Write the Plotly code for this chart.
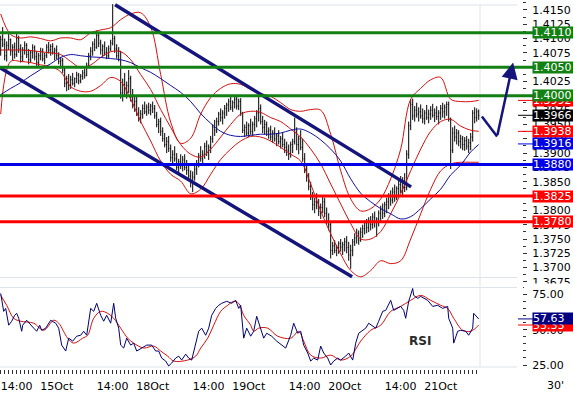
import plotly.graph_objects as go

# ---------------- data (30-minute bars, EUR/USD) ----------------
bar_x = list(range(240))
bar_open = [1.4080,1.4098,1.4090,1.4070,1.4088,1.4098,1.4078,1.4085,1.4072,1.4100,
 1.4082,1.4068,1.4080,1.4088,1.4072,1.4063,1.4076,1.4084,1.4068,1.4058,
 1.4070,1.4078,1.4065,1.4070,1.4085,1.4080,1.4086,1.4076,1.4080,1.4070,
 1.4060,1.4062,1.4045,1.4022,1.4030,1.4018,1.4028,1.4022,1.4030,1.4036,
 1.4026,1.4034,1.4040,1.4036,1.4052,1.4070,1.4078,1.4090,1.4085,1.4105,
 1.4092,1.4080,1.4086,1.4075,1.4070,1.4082,1.4092,1.4100,1.4082,1.4070,
 1.4078,1.4005,1.4020,1.4010,1.4018,1.4030,1.3998,1.3985,1.3990,1.3970,
 1.3962,1.3968,1.3978,1.3972,1.3980,1.3975,1.3982,1.3978,1.3965,1.3950,
 1.3955,1.3938,1.3925,1.3915,1.3920,1.3908,1.3892,1.3898,1.3890,1.3875,
 1.3885,1.3878,1.3888,1.3875,1.3870,1.3860,1.3850,1.3858,1.3872,1.3882,
 1.3895,1.3890,1.3898,1.3912,1.3902,1.3910,1.3925,1.3945,1.3940,1.3955,
 1.3968,1.3962,1.3970,1.3978,1.3984,1.3990,1.3980,1.3988,1.3994,1.3982,
 1.3990,1.3970,1.3940,1.3945,1.3935,1.3948,1.3938,1.3950,1.3960,1.3970,
 1.3978,1.3955,1.3945,1.3950,1.3938,1.3940,1.3928,1.3935,1.3925,1.3930,
 1.3920,1.3925,1.3915,1.3910,1.3905,1.3898,1.3915,1.3920,1.3935,1.3915,
 1.3925,1.3910,1.3890,1.3872,1.3858,1.3842,1.3825,1.3810,1.3815,1.3808,
 1.3798,1.3805,1.3815,1.3795,1.3782,1.3775,1.3730,1.3738,1.3730,1.3735,
 1.3742,1.3736,1.3740,1.3745,1.3735,1.3722,1.3730,1.3745,1.3752,1.3760,
 1.3748,1.3762,1.3768,1.3778,1.3770,1.3782,1.3775,1.3788,1.3780,1.3785,
 1.3795,1.3802,1.3795,1.3810,1.3815,1.3825,1.3818,1.3832,1.3822,1.3838,
 1.3845,1.3835,1.3852,1.3840,1.3898,1.3948,1.3985,1.3965,1.3975,1.3968,
 1.3972,1.3965,1.3960,1.3970,1.3962,1.3968,1.3975,1.3966,1.3970,1.3964,
 1.3970,1.3978,1.3972,1.3980,1.3985,1.3960,1.3905,1.3935,1.3928,1.3935,
 1.3920,1.3925,1.3915,1.3922,1.3912,1.3918,1.3928,1.3970,1.3962,1.3972]
bar_high = [1.4105,1.4120,1.4100,1.4095,1.4112,1.4100,1.4090,1.4093,1.4108,1.4105,
 1.4090,1.4085,1.4095,1.4092,1.4082,1.4080,1.4090,1.4088,1.4078,1.4075,
 1.4084,1.4083,1.4075,1.4090,1.4094,1.4090,1.4092,1.4084,1.4088,1.4076,
 1.4068,1.4066,1.4050,1.4035,1.4038,1.4035,1.4040,1.4032,1.4042,1.4040,
 1.4038,1.4045,1.4048,1.4058,1.4075,1.4085,1.4095,1.4100,1.4114,1.4110,
 1.4098,1.4090,1.4095,1.4085,1.4088,1.4098,1.4160,1.4105,1.4090,1.4085,
 1.4078,1.4030,1.4040,1.4025,1.4045,1.4035,1.4012,1.4000,1.3998,1.3980,
 1.3975,1.3985,1.3990,1.3985,1.3988,1.3986,1.3990,1.3984,1.3972,1.3960,
 1.3962,1.3945,1.3935,1.3928,1.3930,1.3915,1.3905,1.3912,1.3900,1.3890,
 1.3898,1.3895,1.3898,1.3888,1.3882,1.3870,1.3868,1.3880,1.3888,1.3900,
 1.3912,1.3905,1.3918,1.3922,1.3915,1.3930,1.3950,1.3958,1.3962,1.3972,
 1.3978,1.3975,1.3984,1.3988,1.3995,1.3998,1.3992,1.3998,1.3999,1.3995,
 1.3996,1.3972,1.3950,1.3955,1.3952,1.3960,1.3955,1.3965,1.3975,1.3999,
 1.3985,1.3965,1.3958,1.3955,1.3945,1.3948,1.3940,1.3945,1.3935,1.3940,
 1.3930,1.3935,1.3925,1.3920,1.3915,1.3920,1.3925,1.3962,1.3945,1.3930,
 1.3940,1.3925,1.3900,1.3880,1.3865,1.3850,1.3832,1.3822,1.3830,1.3820,
 1.3812,1.3825,1.3822,1.3805,1.3795,1.3780,1.3745,1.3748,1.3740,1.3746,
 1.3750,1.3745,1.3752,1.3755,1.3745,1.3740,1.3750,1.3760,1.3768,1.3765,
 1.3770,1.3775,1.3782,1.3785,1.3788,1.3790,1.3795,1.3798,1.3788,1.3800,
 1.3808,1.3812,1.3815,1.3822,1.3830,1.3835,1.3840,1.3845,1.3842,1.3852,
 1.3860,1.3858,1.3865,1.3905,1.3955,1.3994,1.3995,1.3982,1.3988,1.3980,
 1.3985,1.3978,1.3975,1.3984,1.3976,1.3982,1.3986,1.3978,1.3982,1.3975,
 1.3984,1.3988,1.3985,1.3990,1.3990,1.3962,1.3945,1.3948,1.3942,1.3940,
 1.3932,1.3930,1.3928,1.3930,1.3925,1.3935,1.3975,1.3980,1.3978,1.3976]
bar_low = [1.4070,1.4085,1.4062,1.4060,1.4080,1.4070,1.4062,1.4065,1.4068,1.4075,
 1.4058,1.4060,1.4072,1.4066,1.4055,1.4058,1.4065,1.4062,1.4050,1.4052,
 1.4062,1.4060,1.4055,1.4066,1.4074,1.4070,1.4072,1.4062,1.4064,1.4055,
 1.4048,1.4040,1.4015,1.4008,1.4010,1.4012,1.4018,1.4015,1.4022,1.4020,
 1.4022,1.4028,1.4030,1.4034,1.4048,1.4062,1.4070,1.4078,1.4082,1.4085,
 1.4072,1.4068,1.4070,1.4064,1.4066,1.4078,1.4088,1.4075,1.4065,1.4060,
 1.3995,1.3990,1.4000,1.3995,1.4005,1.3990,1.3978,1.3972,1.3965,1.3955,
 1.3952,1.3960,1.3968,1.3965,1.3968,1.3966,1.3970,1.3960,1.3945,1.3935,
 1.3930,1.3920,1.3910,1.3900,1.3902,1.3885,1.3880,1.3885,1.3870,1.3865,
 1.3872,1.3868,1.3870,1.3862,1.3855,1.3840,1.3832,1.3852,1.3862,1.3875,
 1.3885,1.3878,1.3890,1.3895,1.3888,1.3900,1.3918,1.3930,1.3935,1.3948,
 1.3955,1.3950,1.3960,1.3965,1.3972,1.3975,1.3972,1.3978,1.3976,1.3975,
 1.3965,1.3935,1.3928,1.3930,1.3928,1.3932,1.3930,1.3938,1.3945,1.3955,
 1.3950,1.3935,1.3932,1.3930,1.3925,1.3922,1.3918,1.3920,1.3912,1.3915,
 1.3908,1.3910,1.3900,1.3895,1.3888,1.3892,1.3900,1.3915,1.3905,1.3898,
 1.3905,1.3885,1.3865,1.3850,1.3835,1.3818,1.3800,1.3795,1.3802,1.3790,
 1.3785,1.3795,1.3788,1.3775,1.3765,1.3716,1.3722,1.3725,1.3720,1.3724,
 1.3728,1.3722,1.3728,1.3725,1.3712,1.3698,1.3720,1.3738,1.3742,1.3740,
 1.3745,1.3752,1.3758,1.3760,1.3762,1.3765,1.3768,1.3770,1.3754,1.3772,
 1.3780,1.3785,1.3788,1.3795,1.3802,1.3808,1.3812,1.3815,1.3818,1.3825,
 1.3830,1.3826,1.3832,1.3835,1.3890,1.3940,1.3958,1.3955,1.3962,1.3955,
 1.3960,1.3952,1.3950,1.3958,1.3952,1.3958,1.3962,1.3954,1.3958,1.3950,
 1.3958,1.3962,1.3960,1.3965,1.3955,1.3872,1.3900,1.3920,1.3915,1.3912,
 1.3908,1.3905,1.3904,1.3906,1.3900,1.3905,1.3920,1.3952,1.3955,1.3958]
bar_close = [1.4098,1.4090,1.4070,1.4088,1.4098,1.4078,1.4085,1.4072,1.4100,1.4082,
 1.4068,1.4080,1.4088,1.4072,1.4063,1.4076,1.4084,1.4068,1.4058,1.4070,
 1.4078,1.4065,1.4070,1.4085,1.4080,1.4086,1.4076,1.4080,1.4070,1.4060,
 1.4062,1.4045,1.4022,1.4030,1.4018,1.4028,1.4022,1.4030,1.4036,1.4026,
 1.4034,1.4040,1.4036,1.4052,1.4070,1.4078,1.4090,1.4085,1.4105,1.4092,
 1.4080,1.4086,1.4075,1.4070,1.4082,1.4092,1.4100,1.4082,1.4070,1.4078,
 1.4005,1.4020,1.4010,1.4018,1.4030,1.3998,1.3985,1.3990,1.3970,1.3962,
 1.3968,1.3978,1.3972,1.3980,1.3975,1.3982,1.3978,1.3965,1.3950,1.3955,
 1.3938,1.3925,1.3915,1.3920,1.3908,1.3892,1.3898,1.3890,1.3875,1.3885,
 1.3878,1.3888,1.3875,1.3870,1.3860,1.3850,1.3858,1.3872,1.3882,1.3895,
 1.3890,1.3898,1.3912,1.3902,1.3910,1.3925,1.3945,1.3940,1.3955,1.3968,
 1.3962,1.3970,1.3978,1.3984,1.3990,1.3980,1.3988,1.3994,1.3982,1.3990,
 1.3970,1.3940,1.3945,1.3935,1.3948,1.3938,1.3950,1.3960,1.3970,1.3978,
 1.3955,1.3945,1.3950,1.3938,1.3940,1.3928,1.3935,1.3925,1.3930,1.3920,
 1.3925,1.3915,1.3910,1.3905,1.3898,1.3915,1.3920,1.3935,1.3915,1.3925,
 1.3910,1.3890,1.3872,1.3858,1.3842,1.3825,1.3810,1.3815,1.3808,1.3798,
 1.3805,1.3815,1.3795,1.3782,1.3775,1.3730,1.3738,1.3730,1.3735,1.3742,
 1.3736,1.3740,1.3745,1.3735,1.3722,1.3730,1.3745,1.3752,1.3760,1.3748,
 1.3762,1.3768,1.3778,1.3770,1.3782,1.3775,1.3788,1.3780,1.3785,1.3795,
 1.3802,1.3795,1.3810,1.3815,1.3825,1.3818,1.3832,1.3822,1.3838,1.3845,
 1.3835,1.3852,1.3840,1.3898,1.3948,1.3985,1.3965,1.3975,1.3968,1.3972,
 1.3965,1.3960,1.3970,1.3962,1.3968,1.3975,1.3966,1.3970,1.3964,1.3970,
 1.3978,1.3972,1.3980,1.3985,1.3960,1.3905,1.3935,1.3928,1.3935,1.3920,
 1.3925,1.3915,1.3922,1.3912,1.3918,1.3928,1.3970,1.3962,1.3972,1.3966]

# Bollinger bands and moving average (every 5 bars)
band_x = [0,5,10,15,20,25,30,35,40,45,50,55,60,65,70,75,80,85,90,95,100,105,110,115,
          120,125,130,135,140,145,150,155,160,165,170,175,180,185,190,195,200,205,210,
          215,220,225,230,235,239]
bb_upper = [1.4143,1.4107,1.4101,1.4103,1.4100,1.4096,1.4101,1.4101,1.4098,1.4110,1.4115,
            1.4119,1.4133,1.4143,1.4145,1.4120,1.4037,1.3954,1.3917,1.3926,1.3968,1.3997,
            1.4013,1.4021,1.4020,1.4011,1.4004,1.3999,1.3988,1.3976,1.3973,1.3976,1.3975,
            1.3933,1.3869,1.3820,1.3799,1.3803,1.3820,1.3855,1.3907,1.3994,1.4013,1.4028,
            1.4032,1.3994,1.3990,1.3990,1.3992]
bb_mid = [1.4080,1.4080,1.4080,1.4079,1.4077,1.4075,1.4072,1.4060,1.4049,1.4054,1.4067,
          1.4077,1.4077,1.4063,1.4037,1.4011,1.3976,1.3945,1.3915,1.3898,1.3893,1.3907,
          1.3928,1.3950,1.3968,1.3973,1.3971,1.3962,1.3955,1.3942,1.3928,1.3907,1.3881,
          1.3846,1.3811,1.3777,1.3750,1.3750,1.3763,1.3794,1.3829,1.3869,1.3907,1.3938,
          1.3955,1.3959,1.3947,1.3940,1.3938]
bb_lower = [1.3968,1.4060,1.4060,1.4058,1.4054,1.4051,1.4042,1.4016,1.4008,1.4008,1.4018,
            1.4032,1.4025,1.3994,1.3955,1.3921,1.3886,1.3863,1.3851,1.3829,1.3837,1.3863,
            1.3889,1.3907,1.3921,1.3929,1.3928,1.3921,1.3910,1.3898,1.3886,1.3846,1.3799,
            1.3759,1.3724,1.3695,1.3684,1.3695,1.3712,1.3707,1.3712,1.3750,1.3794,1.3837,
            1.3869,1.3881,1.3884,1.3884,1.3884]
ma_long = [1.4002,1.4013,1.4023,1.4035,1.4046,1.4056,1.4067,1.4072,1.4070,1.4068,1.4067,
           1.4065,1.4063,1.4058,1.4049,1.4041,1.4030,1.4018,1.4006,1.3990,1.3969,1.3952,
           1.3938,1.3931,1.3929,1.3931,1.3933,1.3933,1.3935,1.3940,1.3942,1.3935,1.3923,
           1.3907,1.3886,1.3855,1.3830,1.3815,1.3803,1.3794,1.3785,1.3789,1.3803,1.3820,
           1.3837,1.3862,1.3879,1.3902,1.3915]

# RSI (navy) and its average (red)
rsi_x = [0,0.5,1.5,2.5,3,4,5.5,7,8,9,10.5,11,13,15,16.5,18,19.5,20.5,22.5,25,27.5,29,30.5,
         32.5,34,36,38,40,41.5,43,45,46.5,48,50,51.5,53,55,56.5,57.5,59,60,61.5,63,65,66.5,
         68,70.5,73,75.5,77.5,79,80.5,82.5,84,85.5,87.5,89,90.5,92.5,94,95.5,97.5,99,100.5,
         102.5,104,105.5,107.5,109,110.5,113,115.5,117.5,119,120,121.5,123,125,126.5,128,
         130,131.5,133,135.5,138,140.5,142.5,145,146.5,148.5,150,151.5,153.5,155,156.5,
         158.5,160,161.5,163.5,165,166.5,168.5,170,172.5,174,176,177.5,179,181,182.5,184,
         186,187.5,189,191,192.5,195,196.5,198.5,200,201.5,202.5,204,206,206.5,208.5,210,
         213.5,216,218.5,221,223.5,224,226,226.5,228.5,230,232.5,234,236,236.5,238.5,239]
rsi_val = [75.7,72.2,63.0,65.1,60.2,53.2,56.0,60.2,61.6,58.1,48.9,53.2,56.7,53.2,51.1,48.9,
           53.2,49.6,51.1,56.7,54.6,51.1,39.1,34.9,44.0,41.9,45.4,46.1,48.9,46.1,65.1,63.0,
           68.7,60.2,56.0,60.2,54.6,68.7,58.1,51.1,39.1,37.0,44.0,39.1,40.5,34.9,37.0,39.1,
           39.1,34.9,34.9,29.9,27.8,24.3,26.4,29.9,31.3,28.5,32.7,29.9,28.5,39.1,48.9,51.1,
           46.1,51.1,60.2,65.1,67.3,68.7,70.1,68.7,70.8,65.1,67.3,44.0,51.1,45.4,48.9,59.5,
           49.6,44.0,47.5,45.4,41.9,39.1,37.0,46.1,54.6,47.5,48.9,39.1,33.5,27.8,29.9,28.5,
           38.4,33.5,29.9,25.0,27.8,29.9,28.5,31.3,33.5,28.5,40.5,47.5,49.6,51.1,54.6,52.5,
           51.1,56.0,63.0,63.7,70.8,63.7,65.1,66.5,63.7,58.1,70.1,79.2,74.3,72.2,73.6,70.8,
           66.5,67.3,65.1,66.5,58.1,51.1,40.5,48.9,49.6,48.9,46.1,51.1,61.6,58.1,57.63]
rsi_ma_x = [0,3,6.5,10,16.5,21.5,26.5,29,33.5,36.5,41,43.5,46.5,50,53.5,56.5,60,63.5,66.5,
            71.5,76.5,80,83.5,86.5,93.5,97.5,100,103.5,106.5,110,113.5,116.5,119,121.5,125,
            126.5,129,133.5,138.5,145,149,151.5,155,160,165,170,175,180,185,190,195,200,205,
            210,215,220,223.5,226.5,231,235,238.5,239]
rsi_ma_val = [74.3,67.3,58.1,56.0,54.6,49.6,56.7,54.6,44.0,40.5,44.0,46.1,58.1,63.0,61.6,58.1,
              51.1,44.0,40.5,37.0,38.4,34.9,31.3,27.8,28.5,31.3,37.0,44.0,53.2,63.0,67.3,70.1,
              68.7,60.2,53.2,48.9,51.1,51.1,45.4,44.0,48.9,41.9,32.0,29.9,32.0,28.5,31.3,41.9,
              49.6,53.2,63.0,66.5,70.8,74.3,70.8,67.3,65.1,58.1,49.6,48.9,52.5,53.33]

# drawn trend channel and projection arrow
chan_up_x, chan_up_y = [57.2, 205.2], [1.4159, 1.3841]
chan_lo_x, chan_lo_y = [-0.35, 175.7], [1.4049, 1.3684]
arrow_x, arrow_y = [240.6, 248.2, 256.2], [1.3964, 1.3929, 1.4058]

# horizontal levels
green_levels = [1.4110, 1.4050, 1.4000]
blue_levels = [1.3880]
red_levels = [1.3825, 1.3780]

# current readings shown on the scale: (text, value, colour)
main_tags = [("1.3992", 1.3992, "#ff0000"), ("1.3966", 1.3966, "#000000"),
             ("1.3938", 1.3938, "#ff0000"), ("1.3916", 1.3916, "#0000e0")]
rsi_tags = [("53.33", 53.33, "#ff0000"), ("57.63", 57.63, "#000080")]

price_ticks = [1.3675,1.3700,1.3725,1.3750,1.3775,1.3800,1.3825,1.3850,1.3875,1.3900,
               1.3925,1.3950,1.3975,1.4000,1.4025,1.4050,1.4075,1.4100,1.4125,1.4150]
rsi_ticks = [25, 50, 75]
x_label_pos = [8, 28, 56, 76, 104, 124, 152, 172, 200, 220]
x_label_txt = ["14:00", "15Oct", "14:00", "18Oct", "14:00", "19Oct", "14:00", "20Oct", "14:00", "21Oct"]

# ---------------- figure ----------------
W, H = 573, 393
BOT = 22
PH = H - BOT           # plot-area height in px
FONT = "DejaVu Sans"

def py(p):  # pixel y -> paper y
    return (PH - p) / PH

def px(p):  # pixel x -> paper x
    return p / W

fig = go.Figure()

for yy in (bb_upper, bb_mid, bb_lower):
    fig.add_trace(go.Scatter(x=band_x, y=yy, mode="lines", line=dict(color="#d01010", width=1),
                             xaxis="x2", yaxis="y2", hoverinfo="skip", line_shape="spline"))
fig.add_trace(go.Scatter(x=band_x, y=ma_long, mode="lines", line=dict(color="#1010a0", width=1),
                         xaxis="x2", yaxis="y2", hoverinfo="skip", line_shape="spline"))

fig.add_trace(go.Ohlc(x=bar_x, open=bar_open, high=bar_high, low=bar_low, close=bar_close,
                      increasing=dict(line=dict(color="black", width=1)),
                      decreasing=dict(line=dict(color="black", width=1)),
                      tickwidth=0.3, xaxis="x2", yaxis="y2", hoverinfo="skip"))

for cx, cy in ((chan_up_x, chan_up_y), (chan_lo_x, chan_lo_y)):
    fig.add_trace(go.Scatter(x=cx, y=cy, mode="lines", line=dict(color="#14147a", width=3.5),
                             xaxis="x2", yaxis="y2", hoverinfo="skip"))

fig.add_trace(go.Scatter(x=arrow_x[:2], y=arrow_y[:2], mode="lines",
                         line=dict(color="#14147a", width=2.5), xaxis="x2", yaxis="y2",
                         hoverinfo="skip", cliponaxis=False))

fig.add_trace(go.Scatter(x=rsi_ma_x, y=rsi_ma_val, mode="lines", line=dict(color="#d01010", width=1),
                         hoverinfo="skip", line_shape="spline"))
fig.add_trace(go.Scatter(x=rsi_x, y=rsi_val, mode="lines", line=dict(color="#000070", width=1),
                         hoverinfo="skip"))

shapes = []
for yy in (5, 279, 289, 369):
    shapes.append(dict(type="line", xref="paper", yref="paper", x0=0, x1=px(517),
                       y0=py(yy), y1=py(yy), line=dict(color="#dde3ea", width=1), layer="below"))
shapes.append(dict(type="line", xref="paper", yref="paper", x0=px(480), x1=px(480),
                   y0=py(5), y1=py(369), line=dict(color="#dde3ea", width=1), layer="below"))

for lv in green_levels:
    shapes.append(dict(type="line", xref="paper", yref="y2", x0=0, x1=px(533), y0=lv, y1=lv,
                       line=dict(color="#138013", width=3)))
for lv in blue_levels:
    shapes.append(dict(type="line", xref="paper", yref="y2", x0=0, x1=px(533), y0=lv, y1=lv,
                       line=dict(color="#0000e6", width=3)))
for lv in red_levels:
    shapes.append(dict(type="line", xref="paper", yref="y2", x0=0, x1=px(533), y0=lv, y1=lv,
                       line=dict(color="#ff0000", width=3)))
for txt, v, c in main_tags:
    shapes.append(dict(type="line", xref="paper", yref="y2", x0=px(518), x1=px(533), y0=v, y1=v,
                       line=dict(color=c, width=1)))
for txt, v, c in rsi_tags:
    shapes.append(dict(type="line", xref="paper", yref="y", x0=px(518), x1=px(533), y0=v, y1=v,
                       line=dict(color=c, width=1)))
# the RSI pane hides the lower half of the last price label
shapes.append(dict(type="rect", xref="paper", yref="paper", x0=px(524), x1=1,
                   y0=py(290), y1=py(285), fillcolor="white", line=dict(width=0), layer="above"))

annotations = []

def tag(text, v, color, yref):
    annotations.append(dict(x=px(532), xref="paper", y=v, yref=yref, xanchor="left",
                            yanchor="middle", text=text, showarrow=False, bgcolor=color,
                            font=dict(family=FONT, size=11, color="white"),
                            width=41, height=11, borderpad=0, align="left"))

tag(main_tags[0][0], main_tags[0][1], main_tags[0][2], "y2")
for lv in green_levels:
    tag(f"{lv:.4f}", lv, "#138013", "y2")
for t, v, c in main_tags[1:]:
    tag(t, v, c, "y2")
for lv in blue_levels:
    tag(f"{lv:.4f}", lv, "#0000e6", "y2")
for lv in red_levels:
    tag(f"{lv:.4f}", lv, "#ff0000", "y2")
for t, v, c in rsi_tags:
    tag(t, v, c, "y")

annotations.append(dict(x=arrow_x[2], y=arrow_y[2], xref="x2", yref="y2",
                        ax=arrow_x[1], ay=arrow_y[1], axref="x2", ayref="y2",
                        showarrow=True, arrowhead=2, arrowsize=1.3, arrowwidth=2.5,
                        arrowcolor="#14147a", text=""))
annotations.append(dict(x=px(420), y=py(343), xref="paper", yref="paper", text="<b>RSI</b>",
                        xanchor="center", yanchor="middle", showarrow=False,
                        font=dict(family=FONT, size=12, color="#2a2a2a")))
annotations.append(dict(x=px(555), y=py(388), xref="paper", yref="paper", text="30'",
                        xanchor="center", yanchor="middle", showarrow=False,
                        font=dict(family=FONT, size=11, color="black")))

x_tickvals = list(range(0, 240, 2))
x_ticktext = [x_label_txt[x_label_pos.index(v)] if v in x_label_pos else "" for v in x_tickvals]

xr = [-0.35, 260.65]
fig.update_layout(
    width=W, height=H, margin=dict(l=0, r=0, t=0, b=BOT, pad=0),
    paper_bgcolor="white", plot_bgcolor="white", showlegend=False,
    font=dict(family=FONT, size=11, color="black"),
    xaxis=dict(domain=[0, px(522)], range=xr, anchor="y", showgrid=False, zeroline=False,
               tickmode="array", tickvals=x_tickvals, ticktext=x_ticktext,
               ticks="outside", ticklen=4, tickcolor="#333", tickwidth=1,
               rangeslider=dict(visible=False), showline=False, ticklabelstandoff=3),
    xaxis2=dict(domain=[0, px(522)], range=xr, anchor="y2", matches="x", showgrid=False,
                zeroline=False, showticklabels=False, ticks="", rangeslider=dict(visible=False)),
    yaxis=dict(domain=[0, py(285)], range=[22.18, 82.75], side="right", anchor="x",
               showgrid=False, zeroline=False, tickmode="array", tickvals=rsi_ticks,
               tickformat=".2f", ticks="outside", ticklen=4, tickcolor="#333",
               minor=dict(ticks="outside", ticklen=3, dtick=5, tick0=0, tickcolor="#333"),
               ticklabelstandoff=3),
    yaxis2=dict(domain=[py(284), 1], range=[1.36741, 1.41673], side="right", anchor="x2",
                showgrid=False, zeroline=False, tickmode="array", tickvals=price_ticks,
                tickformat=".4f", ticks="outside", ticklen=4, tickcolor="#333",
                minor=dict(ticks="outside", ticklen=3, dtick=0.00125, tick0=1.3675, tickcolor="#333"),
                ticklabelstandoff=3),
    shapes=shapes, annotations=annotations,
)

fig.write_html("out.html", config={"displayModeBar": False, "staticPlot": True},
               post_script="document.body.style.margin='0';document.body.style.padding='0';")
